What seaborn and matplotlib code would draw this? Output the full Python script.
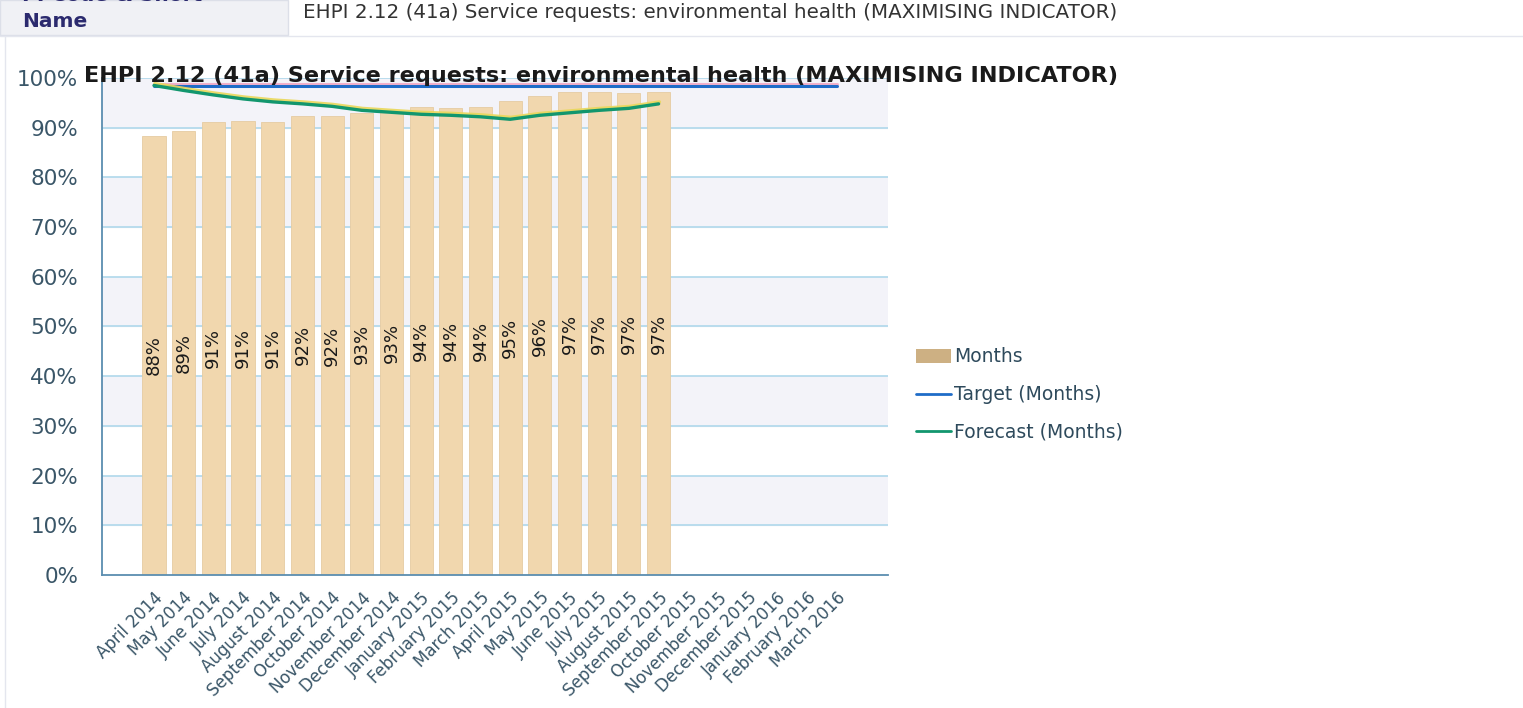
import numpy as np
import pandas as pd
import seaborn as sns
import matplotlib.pyplot as plt
from matplotlib.patches import Rectangle, Patch
from matplotlib.lines import Line2D
import matplotlib.patheffects as pe

# chart data
months = ["April 2014", "May 2014", "June 2014", "July 2014", "August 2014",
          "September 2014", "October 2014", "November 2014", "December 2014",
          "January 2015", "February 2015", "March 2015", "April 2015", "May 2015",
          "June 2015", "July 2015", "August 2015", "September 2015", "October 2015",
          "November 2015", "December 2015", "January 2016", "February 2016", "March 2016"]
actual = [88.4, 89.4, 91.2, 91.3, 91.2, 92.4, 92.3, 93.0, 93.2, 94.1, 94.0, 94.1,
          95.4, 96.3, 97.1, 97.2, 97.0, 97.2]
forecast = [98.5, 97.5, 96.6, 95.8, 95.2, 94.8, 94.3, 93.5, 93.1, 92.7, 92.5, 92.2,
            91.7, 92.5, 93.0, 93.5, 93.9, 94.8]
target = 98.3
title = "EHPI 2.12 (41a) Service requests: environmental health (MAXIMISING INDICATOR)"

sns.set_theme(style="white")
plt.rcParams['font.family'] = ['DejaVu Sans']

fig = plt.figure(figsize=(15.23, 7.08), dpi=100)
ax = fig.add_axes([0.0668, 0.1879, 0.5163, 0.7019])

# alternating bands and grid
for lo in range(10, 100, 20):
    ax.axhspan(lo, lo + 10, color='#f3f3f9', zorder=0)
for g in range(10, 101, 10):
    ax.axhline(g, color='#a9d6ea', lw=1.1, zorder=0.5)

df = pd.DataFrame({"month": months[:len(actual)], "value": actual})
sns.barplot(data=df, x="month", y="value", order=months, color='#f1d7ae',
            saturation=1, width=0.78, edgecolor='#e6cca2', linewidth=0.6, ax=ax, zorder=2)

# value labels, rotated, centred at half height
for i, v in enumerate(actual):
    ax.text(i, v / 2, f"{round(v):.0f}%", rotation=90, ha='center', va='center',
            fontsize=13, color='#1a1a1a', zorder=4)

n = len(months)
sns.lineplot(x=np.arange(n), y=[target] * n, color='#1f6cc8', lw=2.2, ax=ax, zorder=3,
             path_effects=[pe.SimpleLineShadow(offset=(0, 1.6), shadow_color='#f0a0c0', alpha=0.8),
                           pe.Normal()])
sns.lineplot(x=np.arange(len(forecast)), y=forecast, color='#12966e', lw=2.4, ax=ax, zorder=3,
             path_effects=[pe.SimpleLineShadow(offset=(0.6, 1.4), shadow_color='#e9d85a', alpha=0.9),
                           pe.Normal()])

ax.set_xlim(-1.76, n - 1 + 1.73)
ax.set_ylim(0, 100)
ax.set_yticks(range(0, 101, 10))
ax.set_yticklabels([f"{t}%" for t in range(0, 101, 10)], fontsize=15.5, color='#3a5668')
ax.set_xticks(range(n))
ax.set_xticklabels(months, rotation=45, ha='right', rotation_mode='anchor',
                   fontsize=12, color='#3a5668')
ax.tick_params(axis='x', length=5, color='#5b8db0', pad=5)
ax.tick_params(axis='y', length=6, color='#5b8db0', pad=11)
ax.set_xlabel("")
ax.set_ylabel("")
for side in ['top', 'right']:
    ax.spines[side].set_visible(False)
for side in ['left', 'bottom']:
    ax.spines[side].set_color('#5b8db0')
    ax.spines[side].set_linewidth(1.3)

# chart title
fig.text(84 / 1523, 1 - 76 / 708, title, fontsize=16.1, fontweight='bold', color='#1a1a1a',
         ha='left', va='center')

# legend
handles = [Patch(facecolor='#cdb083', edgecolor='none', label='Months'),
           Line2D([], [], color='#1f6cc8', lw=2, label='Target (Months)'),
           Line2D([], [], color='#12966e', lw=2, label='Forecast (Months)')]
leg = fig.legend(handles=handles, loc='upper left', bbox_to_anchor=(908 / 1523, 1 - 340 / 708),
                 frameon=False, fontsize=13.5, handlelength=1.9, handletextpad=0.15,
                 labelspacing=1.0, borderaxespad=0)
for t in leg.get_texts():
    t.set_color('#2e4a5c')

# page header row
fig.patches.append(Rectangle((0, 1 - 35 / 708), 288 / 1523, 35 / 708, transform=fig.transFigure,
                             facecolor='#f0f1f5', edgecolor='#dcdfe8', lw=1, zorder=0))
fig.add_artist(Line2D([0, 1], [1 - 36 / 708] * 2, color='#e4e6ee', lw=1))
fig.add_artist(Line2D([5 / 1523] * 2, [0, 1 - 36 / 708], color='#e4e6ee', lw=1))
fig.text(22 / 1523, 1 - 1 / 708, "PI Code & Short", fontsize=14.5, fontweight='bold',
         color='#2b2a6e', ha='left', va='baseline')
fig.text(22 / 1523, 1 - 27 / 708, "Name", fontsize=14.5, fontweight='bold',
         color='#2b2a6e', ha='left', va='baseline')
fig.text(303 / 1523, 1 - 12 / 708, title, fontsize=14.3, color='#333333', ha='left', va='center')

fig.savefig("out.png", dpi=100)
